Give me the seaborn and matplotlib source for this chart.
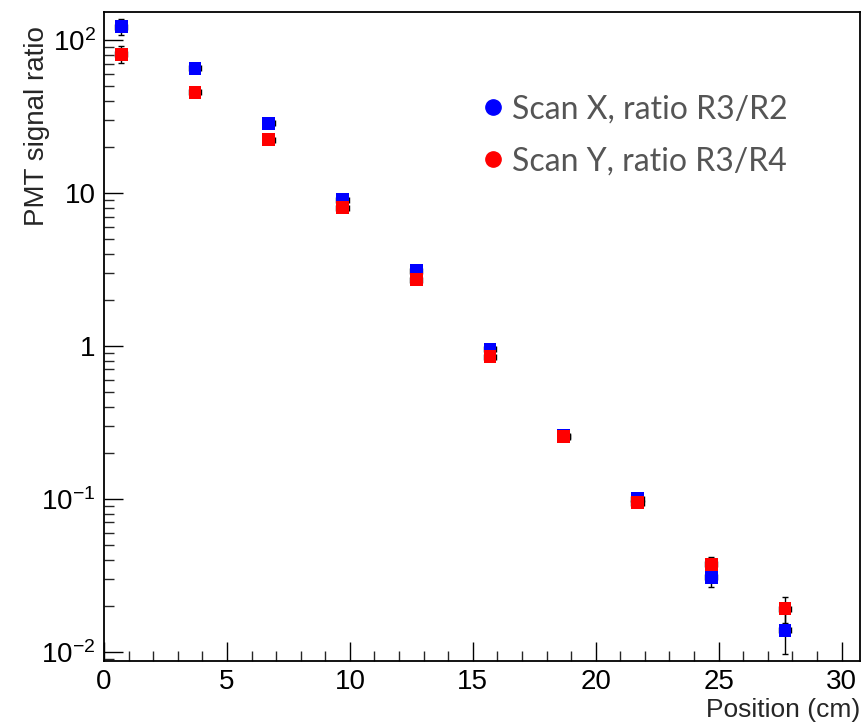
import matplotlib
matplotlib.use("Agg")
import matplotlib.pyplot as plt
import matplotlib.ticker as mticker
from matplotlib.font_manager import fontManager
import seaborn as sns
import pandas as pd
import numpy as np

# Scan positions (cm) and PMT signal ratios
position = [0.7, 3.7, 6.7, 9.7, 12.7, 15.7, 18.7, 21.7, 24.7, 27.7]
ratio_x = [122.0, 65.3, 28.5, 9.0, 3.1, 0.95, 0.258, 0.100, 0.0306, 0.0138]
ratio_y = [80.6, 45.5, 22.2, 8.0, 2.7, 0.85, 0.255, 0.094, 0.0374, 0.0191]
err_x = [15.0, 3.0, 1.3, 0.4, 0.14, 0.045, 0.012, 0.005, 0.004, 0.0041]
err_y = [10.0, 2.0, 1.0, 0.35, 0.12, 0.04, 0.012, 0.005, 0.004, 0.0037]
pos_err = [0.25] * len(position)
series_labels = ["Scan X, ratio R3/R2", "Scan Y, ratio R3/R4"]
ytick_vals = [1e-2, 1e-1, 1, 10, 100]
ytick_text = ["$10^{-2}$", "$10^{-1}$", "1", "10", "$10^{2}$"]

installed = {f.name for f in fontManager.ttflist}
axis_font = [f for f in ["Liberation Sans Narrow", "Liberation Sans"] if f in installed] + ["DejaVu Sans"]
legend_font = [f for f in ["Lato", "Open Sans"] if f in installed] + ["DejaVu Sans"]

sns.set_theme(style="ticks")
plt.rcParams["font.family"] = axis_font
plt.rcParams["mathtext.default"] = "regular"

df = pd.DataFrame({
    "position": position * 2,
    "ratio": ratio_x + ratio_y,
    "err": err_x + err_y,
    "scan": [series_labels[0]] * len(position) + [series_labels[1]] * len(position),
})
colors = {series_labels[0]: "#0000ff", series_labels[1]: "#ff0000"}

fig = plt.figure(figsize=(8.64, 7.28), dpi=100)
ax = fig.add_axes([0.1204, 0.092, 0.8750, 0.8915])

for lab in series_labels:
    sub = df[df["scan"] == lab]
    ax.errorbar(sub["position"], sub["ratio"], yerr=sub["err"], xerr=pos_err,
                fmt="none", ecolor="black", elinewidth=1.0, capsize=2.5,
                capthick=1.0, zorder=2)

sns.scatterplot(data=df, x="position", y="ratio", hue="scan", palette=colors,
                marker="s", s=85, linewidth=0, ax=ax, zorder=3, legend=False)

ax.set_yscale("log")
ax.set_xlim(0, 30.75)
ax.set_ylim(0.0087, 152)

ax.xaxis.set_major_locator(mticker.MultipleLocator(5))
ax.xaxis.set_minor_locator(mticker.MultipleLocator(1))
ax.yaxis.set_major_locator(mticker.FixedLocator(ytick_vals))
ax.yaxis.set_major_formatter(mticker.FixedFormatter(ytick_text))
ax.yaxis.set_minor_locator(mticker.LogLocator(base=10, subs=np.arange(2, 10)))
ax.yaxis.set_minor_formatter(mticker.NullFormatter())

ax.tick_params(which="major", direction="in", length=14, width=1.0,
               labelsize=20, colors="black", pad=6)
ax.tick_params(which="minor", direction="in", length=7, width=1.0)
ax.tick_params(top=False, right=False, which="both")
for lbl in ax.get_xticklabels() + ax.get_yticklabels():
    lbl.set_family(axis_font)
for s in ax.spines.values():
    s.set_linewidth(1.3)
    s.set_color("black")
    s.set_visible(True)

ax.set_xlabel("Position (cm)", fontsize=19, loc="right", labelpad=2)
ax.set_ylabel("PMT signal ratio", fontsize=20, loc="top",
              family=["Liberation Sans", "DejaVu Sans"])
ax.yaxis.set_label_coords(-0.072, 0.978)

handles = [plt.Line2D([], [], marker="o", linestyle="none", markersize=11,
                      color=colors[lab]) for lab in series_labels]
leg = ax.legend(handles, series_labels, loc="upper left",
                bbox_to_anchor=(0.455, 0.917), frameon=False,
                prop={"family": legend_font, "size": 23},
                handletextpad=0.1, labelspacing=0.68, handlelength=1.0)
for t in leg.get_texts():
    t.set_color("#555555")

fig.savefig("out.png", dpi=100, facecolor="white")
